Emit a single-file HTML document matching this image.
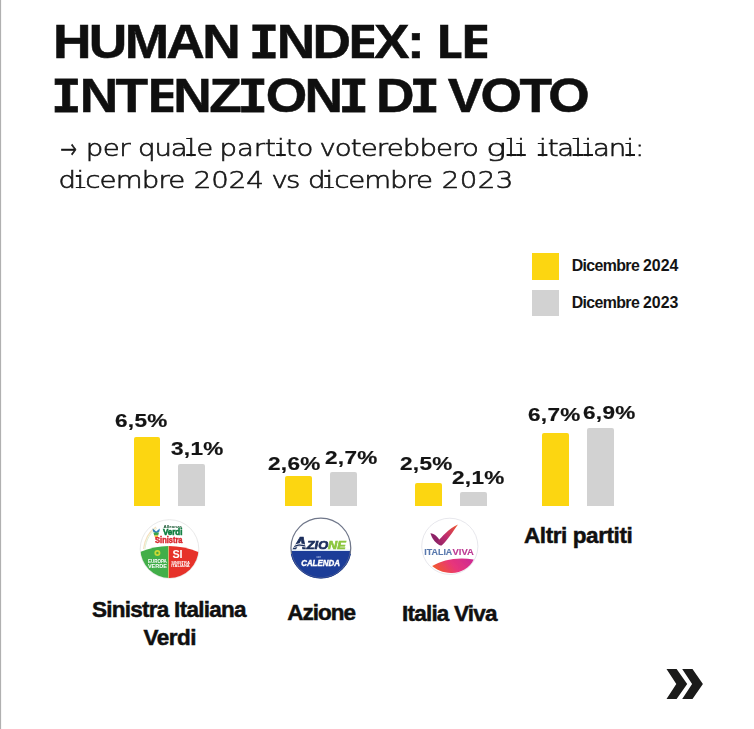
<!DOCTYPE html>
<html lang="it">
<head>
<meta charset="utf-8">
<title>Human Index: le intenzioni di voto</title>
<style>
  html, body { margin: 0; padding: 0; background: #ffffff; }
  body { width: 754px; height: 729px; position: relative; overflow: hidden;
         font-family: "Liberation Sans", sans-serif; color: #131313; }
  .abs { position: absolute; white-space: nowrap; line-height: 1; }
  .edge { position: absolute; left: 0; top: 0; width: 2px; height: 729px; background: linear-gradient(to right, #b0b0b0 0, #b0b0b0 1px, #f7f7f7 1px, #f7f7f7 2px); }

  /* title */
  .title { font-family: "Liberation Sans", sans-serif; font-weight: bold;
           font-size: 48px; color: #0f0f0f; transform-origin: 0 0; transform: scaleX(1.11);
           letter-spacing: -2.4px; -webkit-text-stroke: 0.5px #0f0f0f; }
  .title .i { font-family: "Liberation Mono", monospace; font-size: 50px; letter-spacing: 0;
              display: inline-block; transform: scaleX(0.9); margin: 0 -3px; -webkit-text-stroke: 0.8px #0f0f0f; }
  .title .e { display: inline-block; clip-path: inset(0 6.5px 0 0); margin-right: -6.5px; }
  .title .l { display: inline-block; clip-path: inset(0 4.6px 0 0); margin-right: -4.6px; }
  /* subtitle */
  .sub { font-family: "DejaVu Sans", "Liberation Sans", sans-serif; font-weight: 200;
         font-size: 23px; color: #181818; -webkit-text-stroke: 0.62px #181818;
         transform-origin: 0 0; transform: scaleX(1.2); }

  .sub .w { display: inline-block; }
  .sub .sf { display: inline-block; position: relative; width: 8.3px; text-align: center; letter-spacing: 0; }
  .sub .sf::after { content: ""; position: absolute; left: 0; right: 0; top: 17.5px; height: 1.45px; background: #181818; }
  .sub .sf::before { content: ""; position: absolute; left: 0; width: 50%; height: 1.45px; background: #181818; }
  .sub .si::before { top: 6.2px; }
  .sub .sl::before { top: 1.2px; }
  .sub .wg { display: inline-block; transform: scaleX(1.2); transform-origin: 0 50%; margin-right: 2.2px; }
  .sub .arr { display: inline-block; position: relative; top: 0.9px; transform: scale(0.72, 1.15); transform-origin: 0 50%; margin-right: -5.3px; }
  /* legend */
  .sw { position: absolute; width: 26.5px; height: 26.5px; }
  .leg { font-weight: bold; font-size: 15.9px; color: #141414; word-spacing: -0.6px; }
  .leg span { letter-spacing: -0.62px; }

  /* bars */
  .bar { position: absolute; border-radius: 2px 2px 0 0; }
  .y { background: #fcd611; }
  .g { background: #d2d2d2; }
  .val { font-family: "Liberation Sans", sans-serif; font-weight: bold;
         font-size: 17.9px; color: #141414; transform-origin: 0 0; transform: scaleX(1.26); letter-spacing: 0.25px;
         -webkit-text-stroke: 0.2px #141414; }

  /* labels */
  .lab { font-weight: bold; font-size: 22.5px; color: #101010; letter-spacing: -0.8px;
         -webkit-text-stroke: 0.5px #101010; }
</style>
</head>
<body>
<div class="edge"></div>

<div class="abs title" id="t1" style="left:53px; top:17.6px;">HUMAN <span class="i">I</span>ND<span class="e">E</span>X: <span class="l" style="margin-left:2.3px">L</span><span class="e">E</span></div>
<div class="abs title" id="t2" style="left:53px; top:72.2px; word-spacing:-2.7px;"><span class="i">I</span>NT<span class="e" style="margin-left:2.1px">E</span>NZ<span class="i">I</span>ON<span class="i">I</span> D<span class="i">I</span> VOTO</div>

<!-- SUB START -->
<div class="abs sub" id="s1" style="left:59px; top:136.8px; transform:scaleX(1.2); word-spacing:-4px;"><span class="w" id="w0_0" style="margin-left:0.75px;"><span class="arr">→</span></span> <span class="w" id="w0_1" style="letter-spacing:-0.38px; margin-left:4.20px;">per</span> <span class="w" id="w0_2" style="letter-spacing:-1.03px; margin-left:3.31px;">qua<span class="sf sl">l</span>e</span> <span class="w" id="w0_3" style="letter-spacing:-0.06px; margin-left:2.92px;">part<span class="sf si">i</span>to</span> <span class="w" id="w0_4" style="letter-spacing:-0.75px; margin-left:1.75px;">voterebbero</span> <span class="w" id="w0_5" style="letter-spacing:0.75px; margin-left:3.48px;"><span class="wg">g</span><span class="sf sl">l</span><span class="sf si">i</span></span> <span class="w" id="w0_6" style="letter-spacing:-0.98px; margin-left:6.42px;"><span class="sf si">i</span>ta<span class="sf sl">l</span><span class="sf si">i</span>an<span class="sf si">i</span>:</span></div>
<div class="abs sub" id="s2" style="left:59px; top:169.2px; transform:scaleX(1.2); word-spacing:-4px;"><span class="w" id="w1_0" style="letter-spacing:-0.70px; margin-left:-0.38px;">d<span class="sf si">i</span>cembre</span> <span class="w" id="w1_1" style="letter-spacing:-0.00px; margin-left:4.35px;">2024</span> <span class="w" id="w1_2" style="letter-spacing:-1.50px; margin-left:3.06px;">vs</span> <span class="w" id="w1_3" style="letter-spacing:-0.96px; margin-left:4.51px;">d<span class="sf si">i</span>cembre</span> <span class="w" id="w1_4" style="letter-spacing:0.38px; margin-left:5.03px;">2023</span></div>
<!-- SUB END -->

<!-- legend -->
<div class="sw y" style="left:532px; top:253px;"></div>
<div class="sw g" style="left:532px; top:289.6px;"></div>
<div class="abs leg" id="l1" style="left:571.7px; top:257.5px;"><span>Dicembre</span> 2024</div>
<div class="abs leg" id="l2" style="left:571.7px; top:295px;"><span>Dicembre</span> 2023</div>

<!-- bars -->
<div class="bar y" style="left:133.6px; top:437.4px; width:26.5px; height:68.5px;"></div>
<div class="bar g" style="left:178.4px; top:464px; width:26.8px; height:41.9px;"></div>
<div class="bar y" style="left:284.7px; top:475.6px; width:27.0px; height:30.3px;"></div>
<div class="bar g" style="left:330px; top:471.9px; width:27.1px; height:34.0px;"></div>
<div class="bar y" style="left:414.7px; top:482.8px; width:27.0px; height:23.1px;"></div>
<div class="bar g" style="left:460px; top:492px; width:26.8px; height:13.9px;"></div>
<div class="bar y" style="left:542.4px; top:432.9px; width:26.7px; height:73.0px;"></div>
<div class="bar g" style="left:587.4px; top:427.6px; width:26.6px; height:78.3px;"></div>

<!-- values -->
<div class="abs val" id="v1" style="left:115.1px; top:412.9px;">6,5%</div>
<div class="abs val" id="v2" style="left:171.2px; top:441.3px;">3,1%</div>
<div class="abs val" id="v3" style="left:267.9px; top:455.6px;">2,6%</div>
<div class="abs val" id="v4" style="left:325.1px; top:450.4px;">2,7%</div>
<div class="abs val" id="v5" style="left:400.2px; top:456.4px;">2,5%</div>
<div class="abs val" id="v6" style="left:452.0px; top:470.0px;">2,1%</div>
<div class="abs val" id="v7" style="left:527.6px; top:407.2px;">6,7%</div>
<div class="abs val" id="v8" style="left:582.5px; top:405.3px;">6,9%</div>


<!-- logo: Alleanza Verdi Sinistra -->
<svg class="abs" style="left:135px; top:514px;" width="70" height="70" viewBox="135 514 70 70" font-family="'Liberation Sans', sans-serif" font-weight="bold">
  <defs>
    <clipPath id="cavs"><circle cx="169.5" cy="549" r="29"/></clipPath>
    <filter id="soft" x="-5%" y="-5%" width="110%" height="110%"><feGaussianBlur stdDeviation="0.35"/></filter>
  </defs>
  <g filter="url(#soft)">
    <circle cx="169.5" cy="549" r="29.3" fill="#ffffff" stroke="#dedede" stroke-width="0.7"/>
    <path d="M143.5 549 C145 538 150 531 156 527" fill="none" stroke="#f3d9b0" stroke-width="1.2" opacity="0.8"/>
    <path d="M144.8 549.4 C146.2 539 151 532 156.8 528.2" fill="none" stroke="#cfe7c2" stroke-width="0.9" opacity="0.8"/>
    <g clip-path="url(#cavs)">
      <path d="M138 553 Q153 546.2 168.7 546.1 L168.7 580 L138 580 Z" fill="#42ae4a"/>
      <path d="M168.7 546.1 Q185 546.2 201 553 L201 580 L168.7 580 Z" fill="#e6332b"/>
      <rect x="168.3" y="546" width="0.7" height="34" fill="#e9c36a"/>
    </g>
    <!-- bird / leaf emblem -->
    <path d="M152.6 528.6 L156.2 531.4 L159.8 528.6 L159.4 531.6 L156.2 533.6 L153 531.6 Z" fill="#2f7fb8"/>
    <path d="M153.4 532.6 L159 532.6 L158.2 535.4 L154.2 535.4 Z" fill="#3aa548"/>
    <path d="M154.2 535.4 L158.2 535.4 L157.6 537 L154.8 537 Z" fill="#f2c230"/>
    <path d="M154.8 537 L157.6 537 L156.2 538.6 Z" fill="#d9342b"/>
    <text x="163.6" y="527.7" font-size="2.7" fill="#14532d" textLength="18.2" lengthAdjust="spacingAndGlyphs">Alleanza</text>
    <text x="162.9" y="535.3" font-size="9.5" fill="#0b7c3d" stroke="#0b7c3d" stroke-width="0.6" textLength="19.6" lengthAdjust="spacingAndGlyphs">Verdi</text>
    <text x="155.1" y="542.7" font-size="8.6" fill="#d9252c" stroke="#d9252c" stroke-width="0.45" textLength="27.4" lengthAdjust="spacingAndGlyphs">Sinistra</text>
    <!-- sunflower -->
    <circle cx="157.4" cy="553" r="3" fill="#cbd934"/>
    <circle cx="157.4" cy="553" r="1.2" fill="#4aa83f"/>
    <text x="147.9" y="562.9" font-size="5" fill="#ffffff" textLength="19" lengthAdjust="spacingAndGlyphs">EUROPA</text>
    <text x="147.9" y="567.8" font-size="5.6" fill="#ffffff" textLength="19" lengthAdjust="spacingAndGlyphs">VERDE</text>
    <text x="172.4" y="558.2" font-size="10" fill="#ffffff" textLength="10.2" lengthAdjust="spacingAndGlyphs">SI</text>
    <text x="171.2" y="564" font-size="3.3" fill="#ffffff" textLength="18.6" lengthAdjust="spacingAndGlyphs">SINISTRA</text>
    <text x="171.2" y="567.4" font-size="3.3" fill="#ffffff" textLength="18.6" lengthAdjust="spacingAndGlyphs">ITALIANA</text>
  </g>
</svg>

<!-- logo: Azione -->
<svg class="abs" style="left:286px; top:513px;" width="70" height="70" viewBox="286 513 70 70" font-family="'Liberation Sans', sans-serif" font-weight="bold" font-style="italic">
  <defs><clipPath id="caz"><circle cx="320.85" cy="548" r="30.2"/></clipPath></defs>
  <g filter="url(#soft)">
    <circle cx="320.85" cy="548" r="29.9" fill="#ffffff"/>
    <g clip-path="url(#caz)">
      <rect x="288" y="549.6" width="66" height="1.6" fill="#dce8f4"/>
      <rect x="288" y="551" width="66" height="30" fill="#1f3e98"/>
    </g>
    <circle cx="320.85" cy="548" r="29.9" fill="none" stroke="#70778a" stroke-width="1.25"/>
    <path d="M291.3 554 A30.2 30.2 0 0 0 350.4 554" fill="none" stroke="#1f3e98" stroke-width="1"/>
    <text x="293.6" y="548.9" textLength="52.2" lengthAdjust="spacingAndGlyphs" stroke-width="0.7"><tspan font-size="16.2" fill="#1c2e5c" stroke="#1c2e5c">A</tspan><tspan font-size="11.3" fill="#1c2e5c" stroke="#1c2e5c">ZIO</tspan><tspan font-size="11.3" fill="#8cc63f" stroke="#8cc63f">NE</tspan></text>
    <path d="M294.2 545.2 Q299 542.6 304.6 544.6" fill="none" stroke="#ffffff" stroke-width="0.9"/>
    <path d="M293.6 547.6 Q299 544.8 305.4 547" fill="none" stroke="#ffffff" stroke-width="0.8"/>
    <text x="316.4" y="557.5" font-size="2.6" fill="#a9bde6" font-style="normal">con</text>
    <text x="301.2" y="566.4" font-size="8.7" fill="#ffffff" stroke="#ffffff" stroke-width="0.4" textLength="38.7" lengthAdjust="spacingAndGlyphs">CALENDA</text>
  </g>
</svg>

<!-- logo: Italia Viva -->
<svg class="abs" style="left:415px; top:512px;" width="70" height="70" viewBox="415 512 70 70" font-family="'Liberation Sans', sans-serif" font-weight="bold">
  <defs>
    <linearGradient id="giv1" x1="0" y1="1" x2="1" y2="0">
      <stop offset="0" stop-color="#8d2466"/><stop offset="0.45" stop-color="#c12d6e"/><stop offset="1" stop-color="#f0592a"/>
    </linearGradient>
    <linearGradient id="giv2" x1="0" y1="0.6" x2="1" y2="0.3">
      <stop offset="0" stop-color="#f15a29"/><stop offset="0.5" stop-color="#e8357a"/><stop offset="1" stop-color="#cf2a92"/>
    </linearGradient>
  </defs>
  <g filter="url(#soft)">
    <circle cx="449.8" cy="546.3" r="28.1" fill="#ffffff" stroke="#dcdce4" stroke-width="0.7"/>
    <!-- check mark -->
    <path d="M430.4 533.2 C434.4 533.4 438.2 536.8 440 541.4 L440.2 545 C436.4 544 432.4 539.6 430.4 533.2 Z" fill="#8d2466"/>
    <path d="M437.2 541.6 C442 537 448.4 528.4 458 524.4 C453.2 531 447.6 540.2 441.6 545.4 C440 546.2 438 544.8 437.2 541.6 Z" fill="url(#giv1)"/>
    <text x="424.3" y="554.6" font-size="9" fill="#5878ad" stroke="#5878ad" stroke-width="0.12" textLength="28" lengthAdjust="spacingAndGlyphs">ITALIA</text>
    <text x="452.6" y="554.6" font-size="9" fill="#bd3a93" stroke="#bd3a93" stroke-width="0.12" textLength="21.2" lengthAdjust="spacingAndGlyphs">VIVA</text>
    <!-- swoosh -->
    <path d="M432.2 565.9 C442 560 458 556.4 473.7 559.6 C470 568 460.5 573.4 451 573 C443 572.6 436 569.6 432.2 565.9 Z" fill="url(#giv2)"/>
  </g>
</svg>

<!-- labels -->
<div class="abs lab" id="b1" style="left:92.0px; top:598.6px; letter-spacing:-0.74px;">Sinistra Italiana</div>
<div class="abs lab" id="b2" style="left:143.4px; top:627.2px; letter-spacing:-0.45px;">Verdi</div>
<div class="abs lab" id="b3" style="left:287.3px; top:602.4px; letter-spacing:-1.0px;">Azione</div>
<div class="abs lab" id="b4" style="left:402.1px; top:603.1px; letter-spacing:-0.8px;">Italia Viva</div>
<div class="abs lab" id="b5" style="left:524.0px; top:524.7px; letter-spacing:-0.42px;">Altri partiti</div>

<!-- chevrons -->
<svg class="abs" style="left:660px; top:664px;" width="50" height="40" viewBox="660 664 50 40">
  <polygon points="666.5,669.1 676.6,669.1 687.2,684 676.6,698.9 666.5,698.9 676.3,684" fill="#1b1b1a"/>
  <polygon points="682.2,669.1 692.5,669.1 702.9,684 692.5,698.9 682.2,698.9 692.1,684" fill="#1b1b1a"/>
</svg>
</body>
</html>
